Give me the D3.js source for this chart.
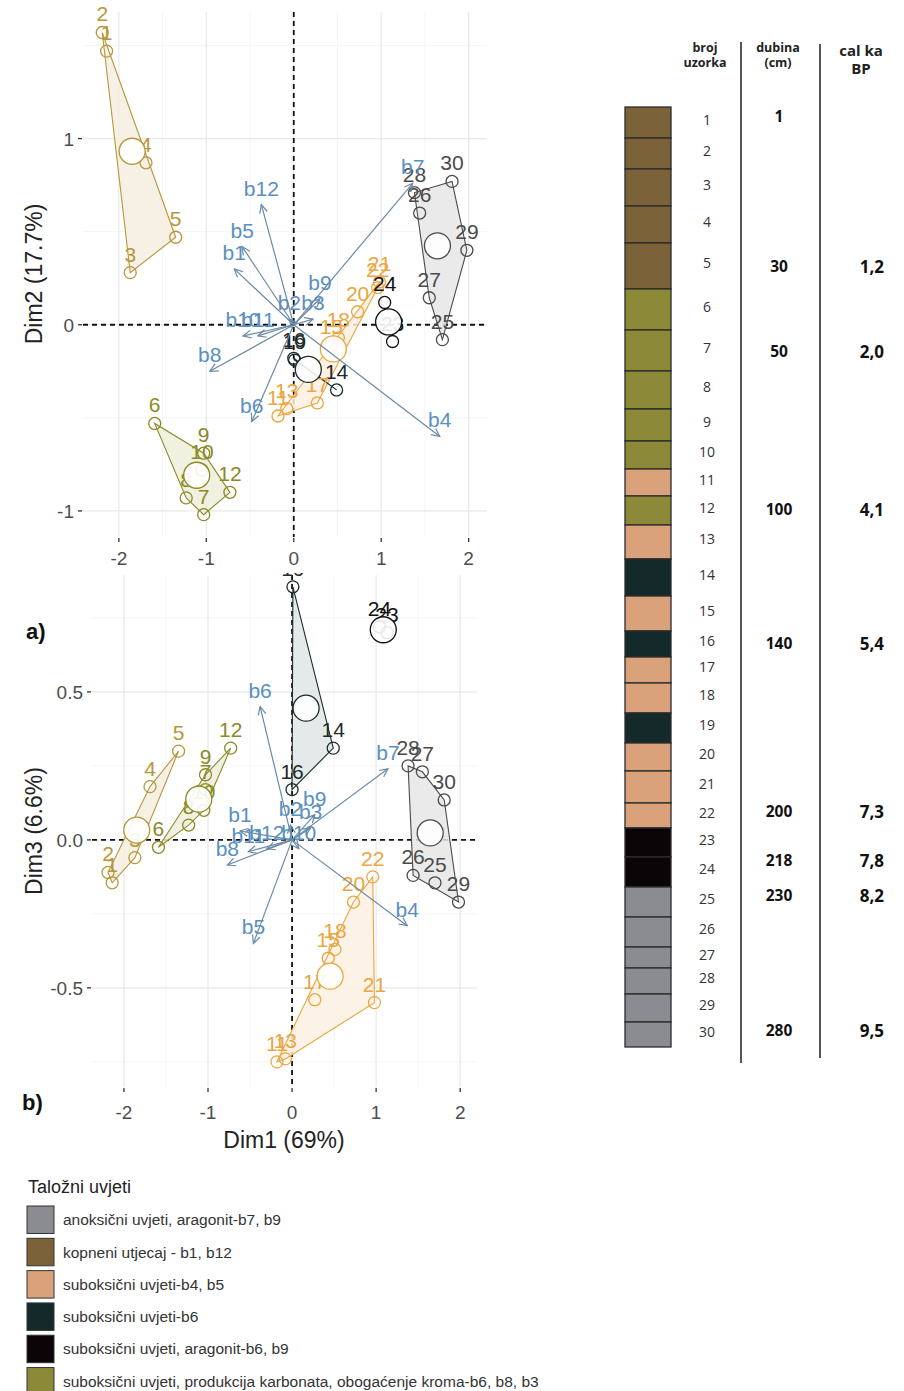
<!DOCTYPE html>
<html><head><meta charset="utf-8">
<script src="https://cdn.jsdelivr.net/npm/d3@7"></script>
<style>body{margin:0;background:#fff}svg{display:block}</style>
</head><body>
<svg id="c" width="904" height="1391"></svg>
<script>
// ---------- DATA ----------
const samples = [1,2,3,4,5,6,7,8,9,10,11,12,13,14,15,16,17,18,19,20,21,22,23,24,25,26,27,28,29,30];
const sampleGroup = ["K","K","K","K","K","P","P","P","P","P","S45","P","S45","S6","S45","S6","S45","S45","S6","S45","S45","S45","SA","SA","A","A","A","A","A","A"];
const dim1 = [-2.14,-2.19,-1.87,-1.69,-1.35,-1.59,-1.03,-1.23,-1.03,-1.05,-0.18,-0.73,-0.08,0.49,0.43,0.00,0.27,0.51,0.01,0.73,0.98,0.96,1.13,1.04,1.70,1.44,1.55,1.38,1.98,1.81];
const dim2 = [1.47,1.57,0.28,0.87,0.47,-0.53,-1.02,-0.93,-0.69,-0.78,-0.49,-0.90,-0.45,-0.35,-0.11,-0.18,-0.42,-0.07,-0.19,0.07,0.23,0.20,-0.09,0.12,-0.08,0.60,0.145,0.71,0.40,0.77];
const dim3 = [-0.145,-0.11,-0.06,0.18,0.30,-0.025,0.17,0.05,0.22,0.10,-0.75,0.31,-0.74,0.31,-0.40,0.17,-0.54,-0.37,0.855,-0.21,-0.55,-0.125,0.70,0.72,-0.145,-0.12,0.23,0.25,-0.21,0.135];

const varNames = ["b1","b2","b3","b4","b5","b6","b7","b8","b9","b10","b11","b12"];
const varA_dim1 = [-0.68,-0.05,0.22,1.67,-0.59,-0.48,1.36,-0.96,0.30,-0.58,-0.41,-0.37];
const varA_dim2 = [0.30,0.03,0.03,-0.60,0.42,-0.52,0.76,-0.25,0.14,-0.06,-0.06,0.645];
const varB_dim1 = [-0.62,-0.02,0.22,1.37,-0.46,-0.38,1.14,-0.77,0.27,0.08,-0.52,-0.30];
const varB_dim3 = [0.03,0.05,0.04,-0.29,-0.35,0.45,0.24,-0.085,0.085,-0.03,-0.04,-0.03];

const xTicks = [-2,-1,0,1,2];
const xMinor = [-1.5,-0.5,0.5,1.5];
const yTicksA = [-1,0,1];
const yMinorA = [-0.5,0.5,1.5];
const yTicksB = [-0.5,0,0.5];
const yMinorB = [-0.75,-0.25,0.25,0.75];
const yTickLabelsB = ["-0.5","0.0","0.5"];

const groups = ["A","K","S45","S6","SA","P"];
const groupLabels = ["anoksični uvjeti, aragonit-b7, b9","kopneni utjecaj - b1, b12","suboksični uvjeti-b4, b5","suboksični uvjeti-b6","suboksični uvjeti, aragonit-b6, b9","suboksični uvjeti, produkcija karbonata, obogaćenje kroma-b6, b8, b3"];
const swatchColors = ["#8b8b92","#7b6238","#d9a27b","#142a2a","#0b0508","#8c8a38"];
const plotStroke = ["#4a4a4a","#b8963c","#eaa63f","#1d2b2b","#111111","#8a8a26"];
const plotFill = ["#e6e6e6","#f4ede1","#fcf1e2","#dfe6e6","#dddddd","#edeedb"];

// sample column (relative thickness of each sample row)
const rowSpan = [31,31,37,37,46,41,41,38,32,28,27,29,34,37,35,26,26,30,30,28,32,25,29,30,30,30,21,26,28,25];
const markerRow = [1.3,5.5,7.5,12.45,16.45,22.3,24.1,25.25,30.3];
const depthCm = ["1","30","50","100","140","200","218","230","280"];
const ageKa = ["","1,2","2,0","4,1","5,4","7,3","7,8","8,2","9,5"];

// ---------- DRAW ----------
const svg = d3.select("#c");
const gi = g => groups.indexOf(g);
const SANS = "'Liberation Sans', Arial, sans-serif";

function panel(cfg){
  const {xs, ys, dimY, yMajor, yMinor, yLabels, vx, vy, clipTop, xLabBase, yLabEnd, id} = cfg;
  const [xl, xr] = xs.range(); const [yb, yt] = ys.range();
  const g = svg.append("g");
  // grid
  g.selectAll(null).data(xMinor).join("line").attr("x1",xs).attr("x2",xs).attr("y1",yt).attr("y2",yb).attr("stroke","#f2f2f2").attr("stroke-width",0.8);
  g.selectAll(null).data(yMinor).join("line").attr("y1",ys).attr("y2",ys).attr("x1",xl).attr("x2",xr).attr("stroke","#f2f2f2").attr("stroke-width",0.8);
  g.selectAll(null).data(xTicks).join("line").attr("x1",xs).attr("x2",xs).attr("y1",yt).attr("y2",yb).attr("stroke","#e8e8e8").attr("stroke-width",1.2);
  g.selectAll(null).data(yMajor).join("line").attr("y1",ys).attr("y2",ys).attr("x1",xl).attr("x2",xr).attr("stroke","#e8e8e8").attr("stroke-width",1.2);
  // ticks
  g.selectAll(null).data(xTicks).join("line").attr("x1",xs).attr("x2",xs).attr("y1",yb+1).attr("y2",yb+5).attr("stroke","#333").attr("stroke-width",1.3);
  g.selectAll(null).data(yMajor).join("line").attr("y1",ys).attr("y2",ys).attr("x1",xl-5).attr("x2",xl-1).attr("stroke","#333").attr("stroke-width",1.3);
  g.selectAll(null).data(xTicks).join("text").attr("x",xs).attr("y",xLabBase).attr("text-anchor","middle")
    .attr("font-family",SANS).attr("font-size",19).attr("fill","#4d4d4d").text(d=>String(d));
  g.selectAll(null).data(yMajor).join("text").attr("x",yLabEnd).attr("y",d=>ys(d)+7).attr("text-anchor","end")
    .attr("font-family",SANS).attr("font-size",19).attr("fill","#4d4d4d").text((d,i)=>yLabels[i]);

  // clip
  const cp = svg.append("clipPath").attr("id",id).append("rect").attr("x",0).attr("y",clipTop).attr("width",904).attr("height",1391);
  const p = svg.append("g").attr("clip-path",`url(#${id})`);
  // zero lines
  p.append("line").attr("x1",xs(0)).attr("x2",xs(0)).attr("y1",yt).attr("y2",yb).attr("stroke","#111").attr("stroke-width",1.8).attr("stroke-dasharray","5,4");
  p.append("line").attr("y1",ys(0)).attr("y2",ys(0)).attr("x1",xl).attr("x2",xr).attr("stroke","#111").attr("stroke-width",1.8).attr("stroke-dasharray","5,4");

  const pts = samples.map((s,i)=>({s, g:sampleGroup[i], x:xs(dim1[i]), y:ys(dimY[i])}));
  // hulls
  groups.forEach((gr,k)=>{
    const gp = pts.filter(d=>d.g===gr).map(d=>[d.x,d.y]);
    if(gp.length>=3){
      const h = d3.polygonHull(gp);
      p.append("path").attr("d","M"+h.map(q=>q.join(",")).join("L")+"Z")
        .attr("fill",plotFill[k]).attr("fill-opacity",0.85).attr("stroke",plotStroke[k]).attr("stroke-width",1.1);
    }
  });
  // points
  p.selectAll(null).data(pts).join("circle").attr("cx",d=>d.x).attr("cy",d=>d.y).attr("r",6)
    .attr("fill","none").attr("stroke",d=>plotStroke[gi(d.g)]).attr("stroke-width",1.3);
  p.selectAll(null).data(pts).join("text").attr("x",d=>d.x).attr("y",d=>d.y-11).attr("text-anchor","middle")
    .attr("font-family",SANS).attr("font-size",21).attr("fill",d=>plotStroke[gi(d.g)]).text(d=>d.s);
  // centroids
  groups.forEach((gr,k)=>{
    const gp = pts.filter(d=>d.g===gr);
    p.append("circle").attr("cx",d3.mean(gp,d=>d.x)).attr("cy",d3.mean(gp,d=>d.y)).attr("r",13)
      .attr("fill","#fff").attr("fill-opacity",0.9).attr("stroke",plotStroke[k]).attr("stroke-width",1.3);
  });
  // arrows
  const ox = xs(0), oy = ys(0);
  varNames.forEach((v,i)=>{
    const tx = xs(vx[i]), ty = ys(vy[i]);
    const a = Math.atan2(ty-oy, tx-ox), L = 9, sp = 0.45;
    p.append("line").attr("x1",ox).attr("y1",oy).attr("x2",tx).attr("y2",ty).attr("stroke","#6b8aa6").attr("stroke-width",1.2);
    p.append("path").attr("d",`M${tx-L*Math.cos(a-sp)},${ty-L*Math.sin(a-sp)}L${tx},${ty}L${tx-L*Math.cos(a+sp)},${ty-L*Math.sin(a+sp)}`)
      .attr("fill","none").attr("stroke","#6b8aa6").attr("stroke-width",1.2);
    p.append("text").attr("x",tx).attr("y",ty-9).attr("text-anchor","middle").attr("font-family",SANS)
      .attr("font-size",21).attr("fill","#5a8fbf").text(v);
  });
}

const xA = d3.scaleLinear().domain([-2.41,2.21]).range([83,487]);
const yA = d3.scaleLinear().domain([-1.14,1.68]).range([537,12]);
const xB = d3.scaleLinear().domain([-2.38,2.20]).range([92,477]);
const yB = d3.scaleLinear().domain([-0.835,0.895]).range([1087,575]);

panel({xs:xA, ys:yA, dimY:dim2, yMajor:yTicksA, yMinor:yMinorA, yLabels:yTicksA.map(String),
  vx:varA_dim1, vy:varA_dim2, clipTop:0, xLabBase:565, yLabEnd:74, id:"clipA"});
panel({xs:xB, ys:yB, dimY:dim3, yMajor:yTicksB, yMinor:yMinorB, yLabels:yTickLabelsB,
  vx:varB_dim1, vy:varB_dim3, clipTop:573, xLabBase:1119, yLabEnd:83, id:"clipB"});

// axis titles
svg.append("text").attr("transform","translate(42,274) rotate(-90)").attr("text-anchor","middle")
  .attr("font-family",SANS).attr("font-size",23).attr("fill","#222").text("Dim2 (17.7%)");
svg.append("text").attr("transform","translate(42,831) rotate(-90)").attr("text-anchor","middle")
  .attr("font-family",SANS).attr("font-size",23).attr("fill","#222").text("Dim3 (6.6%)");
svg.append("text").attr("x",284).attr("y",1148).attr("text-anchor","middle")
  .attr("font-family",SANS).attr("font-size",23).attr("fill","#222").text("Dim1 (69%)");
svg.append("text").attr("x",26).attr("y",639).attr("font-family",SANS).attr("font-weight","bold").attr("font-size",22).attr("fill","#111").text("a)");
svg.append("text").attr("x",22).attr("y",1110).attr("font-family",SANS).attr("font-weight","bold").attr("font-size",22).attr("fill","#111").text("b)");

// legend
svg.append("text").attr("x",28).attr("y",1193).attr("font-family",SANS).attr("font-size",18).attr("fill","#222").text("Taložni uvjeti");
const legY = d3.scaleBand().domain(groups).range([1206,1395]).paddingInner(0.15);
const lg = svg.append("g");
lg.selectAll(null).data(groups).join("rect").attr("x",27).attr("y",d=>legY(d)).attr("width",27).attr("height",legY.bandwidth())
  .attr("fill",(d,i)=>swatchColors[i]).attr("stroke","#333").attr("stroke-width",1);
lg.selectAll(null).data(groups).join("text").attr("x",63).attr("y",d=>legY(d)+legY.bandwidth()/2+5.5)
  .attr("font-family",SANS).attr("font-size",15.5).attr("fill","#333").text((d,i)=>groupLabels[i]);

// sample column
const cum = [0]; rowSpan.forEach(h=>cum.push(cum[cum.length-1]+h));
const yCol = d3.scaleLinear().domain([0,cum[cum.length-1]]).range([107,1047]);
const rowTop = s => yCol(cum[s-1]);
const rowMid = s => (yCol(cum[s-1])+yCol(cum[s]))/2;
const rowAt = f => { const s=Math.floor(f); return yCol(cum[s-1]+ (f-s)*rowSpan[s-1]); };
const col = svg.append("g");
col.selectAll(null).data(samples).join("rect").attr("x",625).attr("width",46)
  .attr("y",s=>rowTop(s)).attr("height",(s,i)=>yCol(cum[i+1])-yCol(cum[i]))
  .attr("fill",(s,i)=>swatchColors[gi(sampleGroup[i])]).attr("stroke","#2b2b2b").attr("stroke-width",1.3);
const OS = "'Open Sans', 'Noto Sans', sans-serif";
col.selectAll(null).data(samples).join("text").attr("x",707).attr("y",s=>rowMid(s)+2).attr("text-anchor","middle")
  .attr("font-family",OS).attr("font-size",14).attr("fill","#333").text(s=>s);
col.selectAll(null).data(markerRow).join("text").attr("x",779).attr("y",d=>rowAt(d)+6).attr("text-anchor","middle")
  .attr("font-family",OS).attr("font-weight","bold").attr("font-size",15.5).attr("fill","#111").text((d,i)=>depthCm[i]);
col.selectAll(null).data(markerRow).join("text").attr("x",884).attr("y",d=>rowAt(d)+7).attr("text-anchor","end")
  .attr("font-family",OS).attr("font-weight","bold").attr("font-size",17).attr("fill","#111").text((d,i)=>ageKa[i]);
col.append("line").attr("x1",741).attr("x2",741).attr("y1",42).attr("y2",1063).attr("stroke","#555").attr("stroke-width",2);
col.append("line").attr("x1",820).attr("x2",820).attr("y1",44).attr("y2",1058).attr("stroke","#555").attr("stroke-width",2);
const hdr = [["broj","uzorka",705,12.5],["dubina","(cm)",778,12.5],["cal ka","BP",861,15]];
hdr.forEach(([a,b,x,fs])=>{
  col.append("text").attr("x",x).attr("y",fs>13?56:52).attr("text-anchor","middle").attr("font-family",OS).attr("font-weight","bold").attr("font-size",fs).attr("fill","#222").text(a);
  col.append("text").attr("x",x).attr("y",fs>13?74:67).attr("text-anchor","middle").attr("font-family",OS).attr("font-weight","bold").attr("font-size",fs).attr("fill","#222").text(b);
});
</script>
</body></html>
